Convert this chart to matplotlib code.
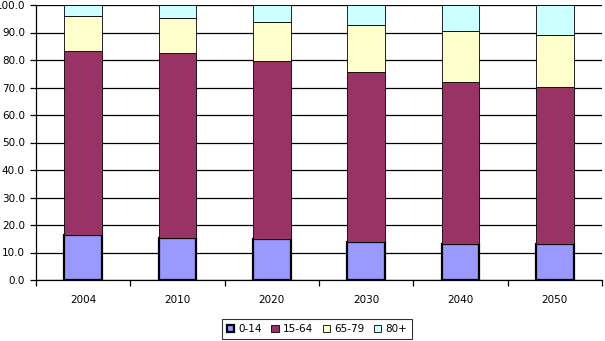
import matplotlib
matplotlib.use("Agg")
import matplotlib.pyplot as plt
import numpy as np

plt.rcParams['font.family'] = ['DejaVu Sans']

years = ["2004", "2010", "2020", "2030", "2040", "2050"]
groups = ["0-14", "15-64", "65-79", "80+"]
age_0_14 = [16.4, 15.3, 14.8, 13.8, 13.2, 13.0]
age_15_64 = [66.9, 67.2, 64.7, 61.7, 58.8, 57.2]
age_65_79 = [12.7, 12.8, 14.5, 17.3, 18.5, 18.9]
age_80p = [4.0, 4.7, 6.0, 7.2, 9.5, 10.9]
colors = ["#9999FF", "#993366", "#FFFFCC", "#CCFFFF"]

fig = plt.figure(figsize=(6.05, 3.41), dpi=100)
ax = fig.add_axes([36/605, 61/341, 566/605, 275/341])

x = np.arange(len(years))
bottom = np.zeros(len(years))
series = [age_0_14, age_15_64, age_65_79, age_80p]
for i, (vals, c) in enumerate(zip(series, colors)):
    lw = 1.6 if i == 0 else 0.6
    ax.bar(x, vals, 0.4, bottom=bottom, color=c, edgecolor="black",
           linewidth=lw, label=groups[i], zorder=3)
    bottom += np.array(vals)

ax.set_ylim(0, 100)
ax.set_xlim(-0.5, len(years) - 0.5)
ax.set_yticks(np.arange(0, 101, 10))
ax.set_yticklabels(["%.1f" % v for v in np.arange(0, 101, 10)], fontsize=7.5)
ax.yaxis.grid(True, color="black", linewidth=0.9, zorder=0)

# year labels centred, tick marks between categories
ax.set_xticks(np.arange(-0.5, len(years), 1.0))
ax.set_xticklabels([])
ax.set_xticks(x, minor=True)
ax.set_xticklabels(years, minor=True, fontsize=7.5)
ax.tick_params(axis="x", which="minor", length=0, pad=11)
ax.tick_params(axis="x", which="major", length=4, width=0.9, direction="out")
ax.tick_params(axis="y", length=4, width=0.9, pad=4)

for s in ["top", "right"]:
    ax.spines[s].set_visible(False)
ax.spines["left"].set_linewidth(0.9)
ax.spines["bottom"].set_linewidth(0.9)

leg = fig.legend(loc="center", bbox_to_anchor=(317/605, 12/341), ncol=4,
                 fontsize=7.5, frameon=True, fancybox=False, edgecolor="black",
                 handlelength=0.7, handleheight=0.7, handletextpad=0.4,
                 columnspacing=0.9, borderpad=0.45)
leg.get_frame().set_linewidth(0.8)

fig.savefig("out.png", dpi=100)
